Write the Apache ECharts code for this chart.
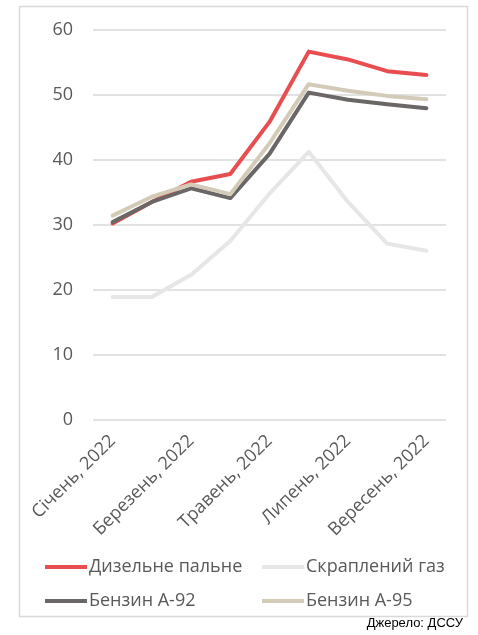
<!DOCTYPE html>
<html>
<head>
<meta charset="utf-8">
<script src="https://cdn.jsdelivr.net/npm/echarts@6/dist/echarts.min.js"></script>
<style>
  html, body { margin: 0; padding: 0; background: #fff; }
  #chart { width: 478px; height: 635px; }
</style>
</head>
<body>
<div id="chart"></div>
<script>
// місяці 2022
let months = ["Січень, 2022", "Лютий, 2022", "Березень, 2022", "Квітень, 2022", "Травень, 2022",
  "Червень, 2022", "Липень, 2022", "Серпень, 2022", "Вересень, 2022"];
let diesel = [30.2, 33.5, 36.6, 37.8, 45.8, 56.6, 55.4, 53.6, 53.0];
let gas = [18.9, 18.9, 22.3, 27.5, 34.8, 41.2, 33.5, 27.1, 26.0];
let a92 = [30.4, 33.5, 35.6, 34.1, 40.9, 50.3, 49.2, 48.5, 47.9];
let a95 = [31.4, 34.3, 36.2, 34.7, 42.5, 51.6, 50.6, 49.8, 49.3];
let yTicks = [0, 10, 20, 30, 40, 50, 60];

let font = "'Open Sans', 'Noto Sans', sans-serif";
let textColor = "#595959";

let makeLine = (name, data, color) => ({
  name: name,
  type: "line",
  data: data,
  symbol: "none",
  lineStyle: { color: color, width: 4, cap: "round", join: "round" },
  itemStyle: { color: color },
  z: name === "Скраплений газ" ? 1 : 2,
});

let legendBase = {
  orient: "vertical",
  top: 558,
  padding: 0,
  itemWidth: 42,
  itemHeight: 4,
  itemGap: 16,
  icon: "rect",
  textStyle: { color: textColor, fontSize: 18, fontFamily: font, padding: [0, 0, 0, -3] },
};

let myChart = echarts.init(document.getElementById("chart"));
myChart.setOption({
  animation: false,
  textStyle: { fontFamily: font },
  grid: { left: 93, right: 32, top: 29.5, bottom: 215 },
  legend: [
    Object.assign({}, legendBase, { left: 45, data: ["Дизельне пальне", "Бензин А-92"] }),
    Object.assign({}, legendBase, { left: 262, data: ["Скраплений газ", "Бензин А-95"] }),
  ],
  xAxis: {
    type: "category",
    data: months,
    boundaryGap: true,
    axisLine: { show: false },
    axisTick: { show: false },
    axisLabel: {
      interval: 1,
      rotate: 45,
      margin: 18,
      color: textColor,
      fontSize: 18,
      fontFamily: font,
    },
  },
  yAxis: {
    type: "value",
    min: yTicks[0],
    max: yTicks[yTicks.length - 1],
    interval: 10,
    axisLabel: { color: textColor, fontSize: 18, fontFamily: font, margin: 20 },
    splitLine: { lineStyle: { color: "#D9D9D9", width: 1.5 } },
  },
  series: [
    makeLine("Дизельне пальне", diesel, "#E84D4F"),
    makeLine("Скраплений газ", gas, "#E6E6E6"),
    makeLine("Бензин А-92", a92, "#6B6766"),
    makeLine("Бензин А-95", a95, "#D3CBB8"),
  ],
  graphic: [
    {
      type: "rect",
      shape: { x: 19.5, y: 6.5, width: 448, height: 610 },
      style: { fill: "none", stroke: "#D9D9D9", lineWidth: 1.5 },
      silent: true,
    },
    {
      type: "text",
      right: 15,
      top: 617,
      style: { text: "Джерело: ДССУ", font: "13px 'Liberation Sans Narrow', 'Liberation Sans', Arial, sans-serif", fill: "#000" },
    },
  ],
});
window.addEventListener("resize", function () {
  myChart.resize();
});
</script>
</body>
</html>
